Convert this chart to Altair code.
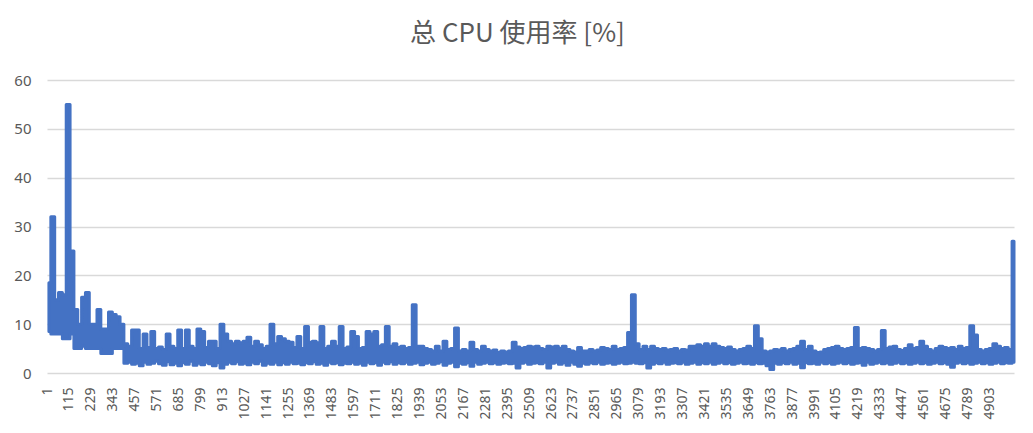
import altair as alt
import pandas as pd

title_text = "总 CPU 使用率 [%]"

# each low/high pair covers this many samples
bin_size = 20

highs = [
    18.5, 32, 15, 16.5, 16, 55, 25, 13, 10, 15.5,            # 0-9
    16.5, 10, 10, 13, 9, 9, 12.5, 12, 11.5, 10,              # 10-19
    6, 5.5, 8.8, 8.8, 5, 8, 5.2, 8.5, 5, 5.3,                # 20-29
    4.8, 8, 5.5, 5, 8.8, 5, 8.8, 5.5, 5, 9,                  # 30-39
    8.5, 5.2, 6.5, 6.5, 5, 10, 8, 6.5, 6, 6.5,               # 40-49
    6.2, 6.5, 7.3, 5.5, 6.5, 5.8, 5, 5.5, 10, 6,             # 50-59
    7.5, 7, 6.5, 6.3, 5.2, 7.5, 5, 9.5, 6.3, 6.5,            # 60-69
    6.2, 9.5, 5, 5.5, 6.5, 5.5, 9.5, 5, 5.3, 8.5,            # 70-79
    7.5, 5, 5.2, 8.5, 8, 8.5, 5.5, 5.8, 9.5, 5.5,            # 80-89
    6, 5.2, 5.5, 5, 5.2, 14, 5.5, 5.5, 5, 4.8,               # 90-99
    4.5, 5.5, 4.5, 6.5, 4.8, 5, 9.2, 4.5, 4.8, 4.5,          # 100-109
    6.3, 4.8, 4.5, 5.5, 4.8, 4.5, 4.7, 4.2, 4.5, 4.3,        # 110-119
    4.5, 6.3, 5.3, 5, 5.2, 5.5, 5.3, 5.5, 5, 4.8,            # 120-129
    5.5, 5.3, 5.5, 5, 5.5, 4.8, 4.5, 4.3, 5.2, 4.5,          # 130-139
    4.5, 4.8, 4.5, 4.7, 5.2, 5, 4.8, 5.5, 4.8, 5,            # 140-149
    5.2, 8.3, 16, 6, 4.8, 5.5, 4.8, 5.5, 5, 4.8,             # 150-159
    5, 4.7, 4.8, 5, 4.5, 4.8, 4.7, 5.5, 5.5, 5.8,            # 160-169
    5.5, 6, 5.5, 6, 5.5, 5.2, 5, 5.3, 4.8, 4.5,              # 170-179
    4.8, 5, 5.5, 5, 9.7, 7, 4.5, 4.3, 4.5, 4.8,              # 180-189
    4.7, 5, 4.5, 4.8, 5, 5.5, 6.5, 4.8, 5.5, 4.5,            # 190-199
    4.2, 4.3, 4.8, 5, 5.2, 5.5, 5, 4.8, 5, 5.2,              # 200-209
    9.3, 5, 5.2, 5, 4.8, 4.5, 4.8, 8.7, 5, 5.3,              # 210-219
    5.5, 4.8, 4.6, 5, 5.8, 5, 5.2, 6.5, 5.5, 4.8,            # 220-229
    4.5, 5, 5.5, 5.2, 5, 5.2, 4.8, 5.5, 5, 5.2,              # 230-239
    9.7, 7.8, 4.8, 4.5, 4.8, 5, 6, 5.5, 5, 5.2,              # 240-249
    4.8, 27,                                                 # 250-251
]

lows = [
    8.5, 8, 8, 8, 7, 7, 8, 5, 5, 5.5,                        # 0-9
    5, 5, 5, 5, 4, 4, 4, 5, 5, 5,                            # 10-19
    2, 2.2, 1.8, 2.0, 1.5, 2.2, 1.8, 2.0, 2.4, 1.9,          # 20-29
    1.6, 2.3, 1.7, 2.0, 1.5, 2.1, 1.8, 2.4, 1.6, 2.0,        # 30-39
    1.7, 2.2, 1.9, 1.5, 2.1, 1.0, 1.8, 2.2, 1.9, 2.3,        # 40-49
    1.8, 2.0, 1.7, 2.2, 1.9, 2.4, 1.6, 2.0, 1.8, 2.2,        # 50-59
    1.7, 2.1, 1.8, 2.2, 1.9, 2.0, 1.7, 2.1, 1.9, 2.3,        # 60-69
    1.8, 2.0, 1.6, 2.2, 1.9, 2.1, 1.7, 2.0, 1.9, 2.2,        # 70-79
    1.8, 2.0, 1.6, 2.2, 1.9, 2.1, 1.6, 2.2, 1.9, 2.3,        # 80-89
    1.8, 2.1, 1.9, 2.2, 1.8, 2.0, 2.2, 1.7, 2.0, 2.2,        # 90-99
    1.8, 2.0, 2.3, 1.6, 2.0, 2.2, 1.3, 2.0, 1.8, 2.1,        # 100-109
    1.4, 2.2, 1.8, 2.0, 2.2, 1.9, 2.1, 1.8, 2.0, 2.1,        # 110-119
    1.9, 2.0, 1.0, 2.0, 2.2, 1.8, 2.0, 2.1, 1.9, 2.2,        # 120-129
    1.0, 2.0, 2.2, 1.8, 2.1, 1.6, 2.2, 1.8, 1.4, 2.0,        # 130-139
    1.8, 2.1, 1.9, 2.2, 1.8, 2.0, 2.1, 1.8, 2.0, 2.2,        # 140-149
    1.9, 2.0, 2.2, 2.0, 1.9, 2.1, 1.0, 1.8, 2.1, 1.9,        # 150-159
    2.2, 1.8, 2.0, 2.1, 1.9, 2.2, 1.8, 2.0, 2.2, 1.8,        # 160-169
    2.1, 1.9, 2.2, 1.8, 2.0, 2.2, 1.9, 2.1, 1.8, 2.0,        # 170-179
    2.2, 1.9, 2.0, 1.8, 2.1, 1.9, 2.0, 1.5, 0.7, 2.0,        # 180-189
    1.8, 2.1, 1.9, 2.2, 1.8, 2.0, 1.1, 2.1, 1.9, 2.0,        # 190-199
    1.8, 2.2, 1.9, 2.1, 1.8, 2.0, 2.2, 1.9, 2.1, 1.8,        # 200-209
    2.0, 2.1, 1.6, 2.2, 1.8, 2.0, 2.2, 1.9, 2.1, 1.8,        # 210-219
    2.0, 2.2, 1.9, 2.1, 1.8, 2.0, 2.2, 1.9, 2.1, 1.8,        # 220-229
    2.0, 2.2, 1.9, 2.1, 1.8, 1.2, 2.0, 2.2, 1.9, 2.1,        # 230-239
    1.8, 2.0, 2.2, 1.9, 2.1, 1.8, 2.0, 2.2, 1.9, 2.1,        # 240-249
    2.0, 2.2,                                                # 250-251
]

x_tick_labels = [1, 115, 229, 343, 457, 571, 685, 799, 913, 1027, 1141, 1255,
                 1369, 1483, 1597, 1711, 1825, 1939, 2053, 2167, 2281, 2395,
                 2509, 2623, 2737, 2851, 2965, 3079, 3193, 3307, 3421, 3535,
                 3649, 3763, 3877, 3991, 4105, 4219, 4333, 4447, 4561, 4675,
                 4789, 4903]
y_ticks = [0, 10, 20, 30, 40, 50, 60]

df = pd.DataFrame({
    "idx": [1 + bin_size * i + bin_size // 2 for i in range(len(highs))],
    "lo": lows,
    "hi": highs,
})

x_max = 1 + bin_size * (len(highs) - 1) + bin_size // 2
blue = "#4472C4"

chart = (
    alt.Chart(df)
    .mark_area(
        interpolate="step",
        color=blue,
        stroke=blue,
        strokeWidth=3,
        strokeJoin="round",
        strokeCap="round",
        opacity=1,
    )
    .encode(
        x=alt.X(
            "idx:Q",
            scale=alt.Scale(domain=[1, x_max], nice=False, zero=False),
            axis=alt.Axis(
                values=x_tick_labels,
                format="d",
                labelAngle=-90,
                labelOverlap=False,
                labelFlush=False,
                labelFontSize=14,
                labelFont="Noto Sans",
                labelColor="#595959",
                labelPadding=14,
                ticks=False,
                domain=False,
                grid=False,
                title=None,
            ),
        ),
        y=alt.Y(
            "lo:Q",
            scale=alt.Scale(domain=[0, 60], nice=False),
            axis=alt.Axis(
                values=y_ticks,
                labelFontSize=15,
                labelFont="Noto Sans",
                labelColor="#595959",
                labelPadding=16,
                ticks=False,
                domain=False,
                grid=True,
                gridColor="#d9d9d9",
                gridWidth=1.3,
                title=None,
            ),
        ),
        y2="hi:Q",
    )
    .properties(
        width=967,
        height=293,
        title=alt.TitleParams(
            title_text,
            fontSize=26,
            font="Noto Sans CJK SC",
            fontWeight="normal",
            color="#595959",
            anchor="middle",
            offset=26,
            dx=-13,
        ),
        autosize=alt.AutoSizeParams(type="none"),
        padding={"left": 47, "top": 80, "right": 19, "bottom": 60},
        background="white",
    )
    .configure_view(stroke=None)
)

chart.save("out.html", embed_options={"renderer": "svg", "actions": False})
